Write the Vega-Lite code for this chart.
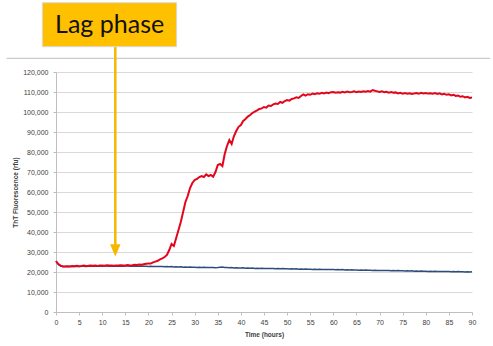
{
  "$schema": "https://vega.github.io/schema/vega-lite/v6.json",
  "width": 416,
  "height": 240,
  "autosize": {"type": "none"},
  "padding": {"left": 56, "top": 72, "right": 21, "bottom": 34},
  "background": "white",
  "config": {"view": {"stroke": null}, "font": "Liberation Sans",
    "axis": {"labelFont": "Liberation Sans", "titleFont": "Liberation Sans", "labelOverlap": false, "labelFlush": false}},
  "datasets": {
    "series": [
      {"t":0,"red":25500,"blue":25300},{"t":0.5,"red":24000,"blue":23800},{"t":1,"red":23200,"blue":23000},{"t":1.5,"red":22800,"blue":22700},
      {"t":2,"red":22700,"blue":22700},{"t":2.5,"red":22900,"blue":22800},{"t":3,"red":22800,"blue":22800},{"t":3.5,"red":23000,"blue":22900},
      {"t":4,"red":22900,"blue":22800},{"t":4.5,"red":23100,"blue":22900},{"t":5,"red":22900,"blue":22800},{"t":5.5,"red":23000,"blue":22900},
      {"t":6,"red":23200,"blue":22900},{"t":6.5,"red":23000,"blue":22800},{"t":7,"red":23100,"blue":22900},{"t":7.5,"red":23300,"blue":23000},
      {"t":8,"red":23100,"blue":22900},{"t":8.5,"red":23200,"blue":23000},{"t":9,"red":23000,"blue":22900},{"t":9.5,"red":23300,"blue":23000},
      {"t":10,"red":23200,"blue":22900},{"t":10.5,"red":23100,"blue":23000},{"t":11,"red":23400,"blue":23000},{"t":11.5,"red":23200,"blue":22900},
      {"t":12,"red":23300,"blue":23000},{"t":12.5,"red":23100,"blue":22900},{"t":13,"red":23300,"blue":23000},{"t":13.5,"red":23200,"blue":22900},
      {"t":14,"red":23400,"blue":23000},{"t":14.5,"red":23200,"blue":22900},{"t":15,"red":23300,"blue":23000},{"t":15.5,"red":23500,"blue":23000},
      {"t":16,"red":23300,"blue":22900},{"t":16.5,"red":23400,"blue":23000},{"t":17,"red":23600,"blue":22900},{"t":17.5,"red":23500,"blue":23000},
      {"t":18,"red":23700,"blue":22900},{"t":18.5,"red":23600,"blue":23000},{"t":19,"red":23900,"blue":22900},{"t":19.5,"red":24100,"blue":22900},
      {"t":20,"red":24300,"blue":22800},{"t":20.5,"red":24200,"blue":22900},{"t":21,"red":24800,"blue":22800},{"t":21.5,"red":25200,"blue":22700},
      {"t":22,"red":25600,"blue":22800},{"t":22.5,"red":26300,"blue":22700},{"t":23,"red":26800,"blue":22800},{"t":23.5,"red":27500,"blue":22600},
      {"t":24,"red":28500,"blue":22700},{"t":24.5,"red":31000,"blue":22600},{"t":25,"red":34000,"blue":22700},{"t":25.5,"red":33000,"blue":22500},
      {"t":26,"red":37000,"blue":22600},{"t":26.5,"red":41000,"blue":22500},{"t":27,"red":45000,"blue":22600},{"t":27.5,"red":50000,"blue":22400},
      {"t":28,"red":55000,"blue":22500},{"t":28.5,"red":58000,"blue":22400},{"t":29,"red":62000,"blue":22500},{"t":29.5,"red":64500,"blue":22400},
      {"t":30,"red":66000,"blue":22400},{"t":30.5,"red":66500,"blue":22300},{"t":31,"red":67500,"blue":22400},{"t":31.5,"red":68000,"blue":22300},
      {"t":32,"red":67500,"blue":22400},{"t":32.5,"red":68800,"blue":22200},{"t":33,"red":68000,"blue":22300},{"t":33.5,"red":68500,"blue":22200},
      {"t":34,"red":67600,"blue":22300},{"t":34.5,"red":70000,"blue":22100},{"t":35,"red":73500,"blue":22200},{"t":35.5,"red":74000,"blue":22400},
      {"t":36,"red":73000,"blue":22500},{"t":36.5,"red":79000,"blue":22300},{"t":37,"red":83000,"blue":22200},{"t":37.5,"red":86000,"blue":22100},
      {"t":38,"red":84000,"blue":22200},{"t":38.5,"red":88000,"blue":22000},{"t":39,"red":90500,"blue":22100},{"t":39.5,"red":92600,"blue":22000},
      {"t":40,"red":93500,"blue":22000},{"t":40.5,"red":95500,"blue":22100},{"t":41,"red":96500,"blue":21900},{"t":41.5,"red":97700,"blue":22000},
      {"t":42,"red":98500,"blue":21900},{"t":42.5,"red":99500,"blue":22000},{"t":43,"red":100200,"blue":21800},{"t":43.5,"red":100800,"blue":21900},
      {"t":44,"red":101500,"blue":21800},{"t":44.5,"red":101800,"blue":21900},{"t":45,"red":102500,"blue":21800},{"t":45.5,"red":102200,"blue":21700},
      {"t":46,"red":103200,"blue":21800},{"t":46.5,"red":103000,"blue":21700},{"t":47,"red":103800,"blue":21800},{"t":47.5,"red":104200,"blue":21600},
      {"t":48,"red":104000,"blue":21700},{"t":48.5,"red":105000,"blue":21600},{"t":49,"red":104600,"blue":21700},{"t":49.5,"red":105500,"blue":21600},
      {"t":50,"red":106000,"blue":21600},{"t":50.5,"red":105700,"blue":21500},{"t":51,"red":106500,"blue":21600},{"t":51.5,"red":106800,"blue":21500},
      {"t":52,"red":107300,"blue":21600},{"t":52.5,"red":107000,"blue":21400},{"t":53,"red":108000,"blue":21500},{"t":53.5,"red":108800,"blue":21400},
      {"t":54,"red":108200,"blue":21500},{"t":54.5,"red":108900,"blue":21400},{"t":55,"red":108600,"blue":21400},{"t":55.5,"red":109200,"blue":21300},
      {"t":56,"red":108900,"blue":21400},{"t":56.5,"red":109400,"blue":21300},{"t":57,"red":109100,"blue":21400},{"t":57.5,"red":109600,"blue":21200},
      {"t":58,"red":109300,"blue":21300},{"t":58.5,"red":109700,"blue":21200},{"t":59,"red":109400,"blue":21300},{"t":59.5,"red":109900,"blue":21200},
      {"t":60,"red":110000,"blue":21200},{"t":60.5,"red":109600,"blue":21100},{"t":61,"red":109900,"blue":21200},{"t":61.5,"red":109700,"blue":21100},
      {"t":62,"red":110100,"blue":21200},{"t":62.5,"red":109800,"blue":21000},{"t":63,"red":110200,"blue":21100},{"t":63.5,"red":109900,"blue":21000},
      {"t":64,"red":110000,"blue":21100},{"t":64.5,"red":110300,"blue":21000},{"t":65,"red":109900,"blue":21000},{"t":65.5,"red":110200,"blue":20900},
      {"t":66,"red":110000,"blue":21000},{"t":66.5,"red":110400,"blue":20900},{"t":67,"red":110100,"blue":21000},{"t":67.5,"red":110500,"blue":20900},
      {"t":68,"red":110200,"blue":20900},{"t":68.5,"red":111000,"blue":20800},{"t":69,"red":110600,"blue":20900},{"t":69.5,"red":110300,"blue":20800},
      {"t":70,"red":110000,"blue":20800},{"t":70.5,"red":110400,"blue":20700},{"t":71,"red":109900,"blue":20800},{"t":71.5,"red":110100,"blue":20700},
      {"t":72,"red":109700,"blue":20800},{"t":72.5,"red":110000,"blue":20600},{"t":73,"red":109600,"blue":20700},{"t":73.5,"red":109800,"blue":20600},
      {"t":74,"red":109300,"blue":20700},{"t":74.5,"red":109600,"blue":20600},{"t":75,"red":109200,"blue":20600},{"t":75.5,"red":109500,"blue":20500},
      {"t":76,"red":109100,"blue":20600},{"t":76.5,"red":109400,"blue":20500},{"t":77,"red":109000,"blue":20600},{"t":77.5,"red":109300,"blue":20400},
      {"t":78,"red":109500,"blue":20500},{"t":78.5,"red":109100,"blue":20400},{"t":79,"red":109600,"blue":20500},{"t":79.5,"red":109300,"blue":20400},
      {"t":80,"red":109500,"blue":20400},{"t":80.5,"red":109200,"blue":20300},{"t":81,"red":109400,"blue":20400},{"t":81.5,"red":109100,"blue":20300},
      {"t":82,"red":109500,"blue":20400},{"t":82.5,"red":109000,"blue":20200},{"t":83,"red":109300,"blue":20300},{"t":83.5,"red":108800,"blue":20200},
      {"t":84,"red":109100,"blue":20300},{"t":84.5,"red":108600,"blue":20200},{"t":85,"red":108900,"blue":20200},{"t":85.5,"red":108300,"blue":20100},
      {"t":86,"red":108600,"blue":20200},{"t":86.5,"red":108000,"blue":20100},{"t":87,"red":108200,"blue":20200},{"t":87.5,"red":107600,"blue":20100},
      {"t":88,"red":107900,"blue":20100},{"t":88.5,"red":107300,"blue":20000},{"t":89,"red":107600,"blue":20100},{"t":89.5,"red":107000,"blue":20000},
      {"t":90,"red":107200,"blue":20100}
    ],
    "box": [{"x1": -2.96, "x2": 26.1, "y1": 132650, "y2": 154650, "label": "Lag phase", "tx": 11.6, "ty": 143400}],
    "sep": [{"x1": -10.7, "x2": 93.9, "y": 126850}],
    "arrow": [{"x": 12.83, "y1": 132650, "y2": 33000, "hy": 30800}]
  },
  "layer": [
    {
      "data": {"name": "series"},
      "transform": [{"fold": ["blue", "red"], "as": ["series", "v"]}],
      "mark": {"type": "line", "clip": false, "interpolate": "linear"},
      "encoding": {
        "x": {"field": "t", "type": "quantitative",
          "scale": {"domain": [0, 90], "nice": false},
          "axis": {"values": [0,5,10,15,20,25,30,35,40,45,50,55,60,65,70,75,80,85,90], "tickCount": 30, "title": "Time (hours)",
            "grid": false, "domainColor": "#bfbfbf", "tickColor": "#bfbfbf", "tickSize": 3,
            "labelFontSize": 7, "labelColor": "#404040", "labelPadding": 3,
            "titleFontSize": 6.5, "titleFontWeight": "bold", "titleColor": "#404040", "titlePadding": 6}},
        "y": {"field": "v", "type": "quantitative",
          "scale": {"domain": [0, 120000], "nice": false},
          "axis": {"values": [0,10000,20000,30000,40000,50000,60000,70000,80000,90000,100000,110000,120000], "tickCount": 30,
            "format": ",d", "title": "ThT Fluorescence (rfu)",
            "grid": true, "gridColor": "#d9d9d9", "domainColor": "#bfbfbf", "tickColor": "#bfbfbf", "tickSize": 3,
            "labelFontSize": 7, "labelColor": "#404040", "labelPadding": 5,
            "titleFontSize": 6.5, "titleFontWeight": "bold", "titleColor": "#404040", "titlePadding": 4}},
        "color": {"field": "series", "type": "nominal",
          "scale": {"domain": ["blue", "red"], "range": ["#2E4D7B", "#E3061B"]}, "legend": null},
        "strokeWidth": {"field": "series", "type": "nominal",
          "scale": {"domain": ["blue", "red"], "range": [1.5, 2]}, "legend": null},
        "order": {"field": "t", "type": "quantitative"}
      }
    },
    {
      "data": {"name": "sep"},
      "mark": {"type": "rule", "color": "#bfbfbf", "strokeWidth": 1, "clip": false},
      "encoding": {
        "x": {"field": "x1", "type": "quantitative"},
        "x2": {"field": "x2"},
        "y": {"field": "y", "type": "quantitative"}
      }
    },
    {
      "data": {"name": "arrow"},
      "mark": {"type": "rule", "color": "#F5B800", "strokeWidth": 2.5, "clip": false},
      "encoding": {
        "x": {"field": "x", "type": "quantitative"},
        "y": {"field": "y1", "type": "quantitative"},
        "y2": {"field": "y2"}
      }
    },
    {
      "data": {"name": "arrow"},
      "mark": {"type": "point", "shape": "M-1,-1.15L1,-1.15L0,1.15Z", "filled": true, "color": "#F5B800", "opacity": 1, "size": 110, "clip": false},
      "encoding": {
        "x": {"field": "x", "type": "quantitative"},
        "y": {"field": "hy", "type": "quantitative"}
      }
    },
    {
      "data": {"name": "box"},
      "mark": {"type": "rect", "fill": "#FFC000", "stroke": "#d9d9d9", "strokeWidth": 1, "clip": false},
      "encoding": {
        "x": {"field": "x1", "type": "quantitative"},
        "x2": {"field": "x2"},
        "y": {"field": "y1", "type": "quantitative"},
        "y2": {"field": "y2"}
      }
    },
    {
      "data": {"name": "box"},
      "mark": {"type": "text", "font": "Lato", "fontSize": 25, "color": "#111111", "align": "center", "baseline": "middle", "clip": false},
      "encoding": {
        "x": {"field": "tx", "type": "quantitative"},
        "y": {"field": "ty", "type": "quantitative"},
        "text": {"field": "label"}
      }
    }
  ]
}
